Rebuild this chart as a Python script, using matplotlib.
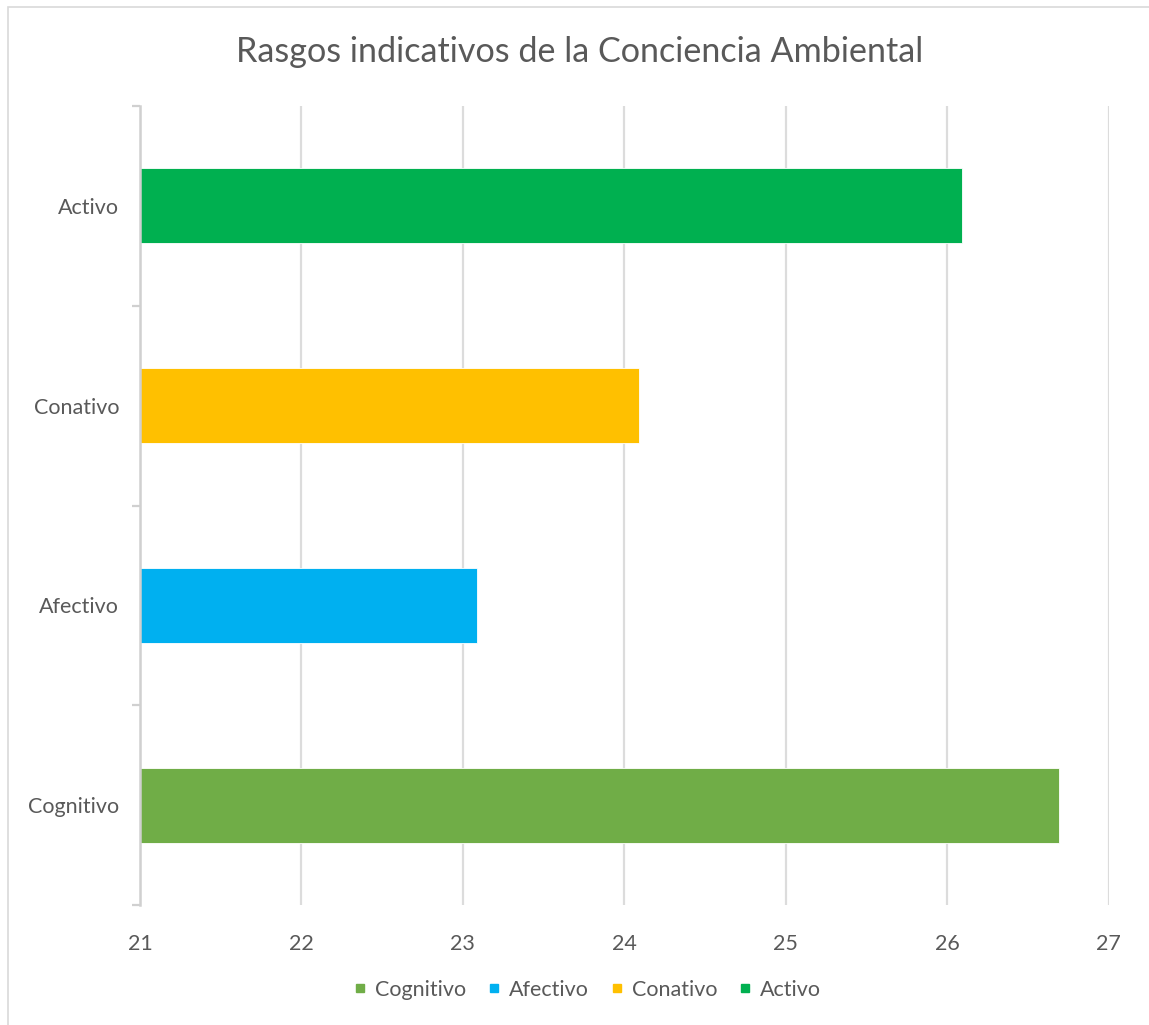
import matplotlib
matplotlib.use("Agg")
import matplotlib.pyplot as plt
from matplotlib.lines import Line2D
from matplotlib.patches import Rectangle

# data: promedio por rasgo
categorias = ["Cognitivo", "Afectivo", "Conativo", "Activo"]
valores = [26.69, 23.09, 24.09, 26.09]
colores = ["#70AD47", "#00B0F0", "#FFC000", "#00B050"]
x_ticks = [21, 22, 23, 24, 25, 26, 27]

W, H = 1149, 1025
texto = "#595959"
plt.rcParams["font.family"] = ["Lato", "DejaVu Sans"]

fig = plt.figure(figsize=(W / 100, H / 100), dpi=100)
fig.patch.set_facecolor("white")

# borde del area del grafico
fig.patches.append(Rectangle((8 / W, 0 - 0.05), 1.1, 1 - 7 / H + 0.05,
                             transform=fig.transFigure, fill=False,
                             edgecolor="#D9D9D9", linewidth=1.2))

ax = fig.add_axes([140 / W, 1 - 905 / H, (1108.7 - 140) / W, (905 - 106) / H])

for i, (cat, val, col) in enumerate(zip(categorias, valores, colores)):
    ax.barh(i, val - x_ticks[0], left=x_ticks[0], height=0.375, color=col,
            edgecolor="white", linewidth=0.6, label=cat, zorder=3)

ax.set_xlim(x_ticks[0], x_ticks[-1])
ax.set_ylim(-0.5, len(categorias) - 0.5)
ax.set_xticks(x_ticks)
ax.set_xticklabels([str(t) for t in x_ticks], fontsize=15.5, color=texto)
ax.set_yticks(range(len(categorias)))
ax.set_yticklabels(categorias, fontsize=15.5, color=texto)
ax.set_yticks([k - 0.5 for k in range(len(categorias) + 1)], minor=True)

ax.tick_params(axis="x", length=0, pad=21)
ax.tick_params(axis="y", which="major", length=0, pad=15)
ax.tick_params(axis="y", which="minor", length=6, width=1.6, color="#D0D0D0")

ax.grid(axis="x", color="#DCDCDC", linewidth=1.6, zorder=0)
ax.set_axisbelow(True)
for lado in ["top", "right", "bottom"]:
    ax.spines[lado].set_visible(False)
ax.spines["left"].set_color("#D0D0D0")
ax.spines["left"].set_linewidth(1.8)
ax.spines["left"].set_zorder(4)

fig.text(580 / W, 1 - 52 / H, "Rasgos indicativos de la Conciencia Ambiental",
         ha="center", va="center", fontsize=24.6, color=texto)

marcas = [Line2D([], [], marker="s", linestyle="none", markersize=6,
                 markerfacecolor=c, markeredgecolor=c) for c in colores]
fig.legend(marcas, categorias, loc="center", ncol=4,
           bbox_to_anchor=(585 / W, 1 - 990 / H), frameon=False,
           fontsize=15.5, labelcolor=texto, handletextpad=0.2,
           columnspacing=0.8, handlelength=1.0)

fig.savefig("out.png", dpi=100, facecolor="white")
